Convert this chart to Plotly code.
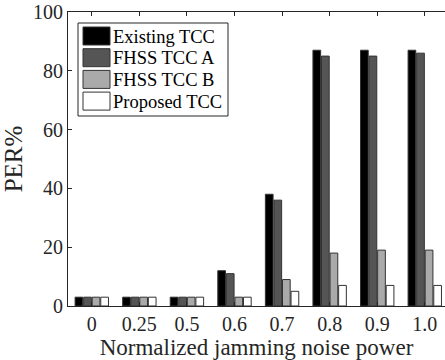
import plotly.graph_objects as go

categories = ["0", "0.25", "0.5", "0.6", "0.7", "0.8", "0.9", "1.0"]
existing_tcc = [3, 3, 3, 12, 38, 87, 87, 87]
fhss_tcc_a = [3, 3, 3, 11, 36, 85, 85, 86]
fhss_tcc_b = [3, 3, 3, 3, 9, 18, 19, 19]
proposed_tcc = [3, 3, 3, 3, 5, 7, 7, 7]

series_names = ["Existing TCC", "FHSS TCC A", "FHSS TCC B", "Proposed TCC"]
series_values = [existing_tcc, fhss_tcc_a, fhss_tcc_b, proposed_tcc]
series_colors = ["#000000", "#555555", "#aaaaaa", "#ffffff"]

FONT = "Liberation Serif"
AX = "#262626"
EDGE = "#333333"

W, H = 445, 360
L, R, T, B = 68, 0, 12, 54
PW, PH = W - L - R, H - T - B


def px(x):
    return (x - L) / PW


def py(y):
    return (H - B - y) / PH


fig = go.Figure()
for name, vals, col in zip(series_names, series_values, series_colors):
    fig.add_trace(go.Bar(
        x=list(range(len(categories))), y=vals, name=name,
        marker=dict(color=col, line=dict(color=EDGE, width=1)),
        showlegend=False,
    ))

# legend box drawn in paper coordinates
shapes = [dict(type="rect", xref="paper", yref="paper",
               x0=px(78), x1=px(228), y0=py(116), y1=py(23),
               fillcolor="white", line=dict(color=AX, width=1), layer="above")]
annotations = []
for i, (name, col) in enumerate(zip(series_names, series_colors)):
    top = 27 + 21.7 * i
    shapes.append(dict(type="rect", xref="paper", yref="paper",
                       x0=px(83), x1=px(110), y0=py(top + 18), y1=py(top),
                       fillcolor=col, line=dict(color=EDGE, width=1), layer="above"))
    annotations.append(dict(xref="paper", yref="paper", x=px(111), y=py(top + 9.5),
                            xanchor="left", yanchor="middle", showarrow=False,
                            text=name, font=dict(family=FONT, size=18.5, color="#000000")))

fig.update_layout(
    width=W, height=H,
    margin=dict(l=L, r=R, t=T, b=B, autoexpand=False),
    paper_bgcolor="white", plot_bgcolor="white",
    font=dict(family=FONT, size=20, color=AX),
    barmode="group", bargap=0.28, bargroupgap=0.1,
    showlegend=False,
    shapes=shapes, annotations=annotations,
)
fig.update_xaxes(
    range=[-0.5, 7.425], automargin=False,
    tickmode="array", tickvals=list(range(len(categories))), ticktext=categories,
    showline=True, linecolor=AX, linewidth=1, mirror="ticks",
    ticks="inside", ticklen=4, tickcolor=AX,
    showgrid=False, zeroline=False,
    title=dict(text="Normalized jamming noise power", standoff=0,
               font=dict(family=FONT, size=23, color=AX)),
)
fig.update_yaxes(
    range=[0, 100], tickvals=[0, 20, 40, 60, 80, 100], automargin=False,
    showline=True, linecolor=AX, linewidth=1, mirror=False,
    ticks="inside", ticklen=4, tickcolor=AX,
    showgrid=False, zeroline=False,
    title=dict(text="PER%", standoff=4,
               font=dict(family=FONT, size=25, color=AX)),
)

fig.write_html("out.html", config={"displayModeBar": False},
               post_script="document.body.style.margin='0';")
